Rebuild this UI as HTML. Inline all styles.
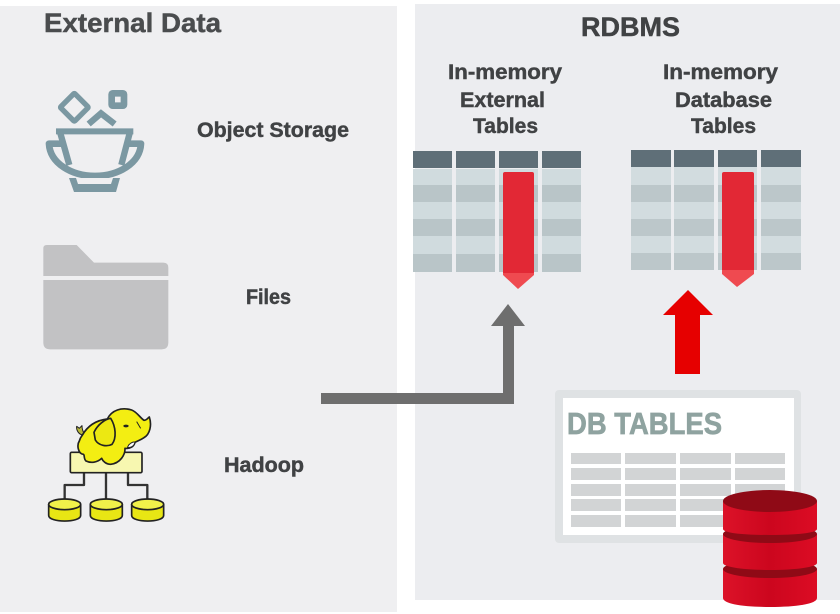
<!DOCTYPE html>
<html><head><meta charset="utf-8"><title>External Data and RDBMS</title>
<style>
html,body{margin:0;padding:0;background:#fff;width:840px;height:614px;overflow:hidden}
svg{display:block}
text{font-family:"Liberation Sans",sans-serif;font-weight:bold;fill:#404244;stroke:#404244;stroke-width:.45px}
</style></head><body>
<svg width="840" height="614" viewBox="0 0 840 614" xmlns="http://www.w3.org/2000/svg">
<defs>
<linearGradient id="cyl" x1="0" x2="1" y1="0" y2="0"><stop offset="0" stop-color="#dc1228"/><stop offset=".5" stop-color="#cc061e"/><stop offset="1" stop-color="#dc0c24"/></linearGradient>
</defs>
<rect x="0" y="6" width="397" height="606" fill="#efeff1"/>
<rect x="415" y="4" width="425" height="596" fill="#ecedf0"/>

<text x="44" y="32" font-size="27" textLength="177" lengthAdjust="spacingAndGlyphs" style="fill:#4a4c4e;stroke:#4a4c4e">External Data</text>
<text x="197" y="137" font-size="21" textLength="152" lengthAdjust="spacingAndGlyphs">Object Storage</text>
<text x="246" y="304" font-size="21" textLength="45" lengthAdjust="spacingAndGlyphs">Files</text>
<text x="224" y="472" font-size="21" textLength="80" lengthAdjust="spacingAndGlyphs">Hadoop</text>
<text x="581" y="36" font-size="27" textLength="99" lengthAdjust="spacingAndGlyphs">RDBMS</text>
<text x="448" y="79" font-size="21" textLength="114" lengthAdjust="spacingAndGlyphs">In-memory</text>
<text x="460" y="107" font-size="21" textLength="85" lengthAdjust="spacingAndGlyphs">External</text>
<text x="473" y="133" font-size="21" textLength="65" lengthAdjust="spacingAndGlyphs">Tables</text>
<text x="663" y="79" font-size="21" textLength="115" lengthAdjust="spacingAndGlyphs">In-memory</text>
<text x="675" y="107" font-size="21" textLength="97" lengthAdjust="spacingAndGlyphs">Database</text>
<text x="691" y="133" font-size="21" textLength="65" lengthAdjust="spacingAndGlyphs">Tables</text>

<!-- object storage icon -->
<g transform="scale(.3333)" fill="none" stroke="#7b98a2" stroke-width="16" stroke-linejoin="round">
<rect x="193" y="292" width="60" height="60" transform="rotate(45 223 322)" rx="3"/>
<rect x="335" y="280" width="37" height="37" rx="3" stroke-width="20"/>
<path d="M266 372L303 340L344 372" stroke-width="19" stroke-linejoin="miter"/>
<path d="M168 394H400" stroke-width="18"/>
<path d="M180 396L208 495M390 396L364 495" stroke-width="19"/>
<path d="M185 431H147C150 490 215 528 285 528C355 528 420 490 423 431H385" stroke-width="20"/>
</g>
<path d="M69 178H120L116 192H74Z" fill="#7b98a2"/>
<path d="M76 178H113L111 184H78Z" fill="#efeff1"/>

<!-- folder -->
<g transform="translate(20 230) scale(.3333)" fill="#c2c2c4">
<path d="M70 138V55Q70 45 80 45H170L222 98H430Q445 98 445 113V138Z"/>
<path d="M70 150H445V338Q445 358 425 358H90Q70 358 70 338Z"/>
</g>

<!-- hadoop -->
<g transform="translate(20 395) scale(.3333)" stroke="#222" stroke-width="5" stroke-linejoin="round">
<g fill="none" stroke="#333" stroke-width="7">
<path d="M192 232V270H134V315"/><path d="M258 232V315"/><path d="M324 232V270H382V315"/>
</g>
<rect x="151" y="172" width="215" height="61" rx="4" fill="#f7f7b0"/>
<path d="M188 120C176 118 168 105 170 94L178 100L186 92C186 102 190 112 194 118Z" fill="#b9b83a" stroke-width="3"/>
<path d="M186 122C205 88 235 75 262 72C275 45 305 36 335 45C350 50 362 70 372 76C380 76 384 68 388 66C396 90 390 118 372 128C360 136 352 138 345 142C342 155 330 162 315 160C316 180 300 205 272 208C258 208 248 198 245 190C232 203 212 205 198 198C190 190 195 180 190 178C174 176 170 150 178 138C180 130 183 126 186 122Z" fill="#f3ee12"/>
<path d="M222 112C232 90 255 72 272 70C288 95 290 130 276 148C260 156 236 152 226 135Z" fill="#ece812"/>
<path d="M326 150C335 140 345 140 345 142C342 155 332 158 322 158Z" fill="#fff" stroke-width="3"/>
<ellipse cx="318" cy="93" rx="8" ry="4" fill="#222" stroke="none"/>
<path d="M350 80L362 100" fill="none" stroke-width="3"/>
<g fill="#e8e614">
<path d="M86 328V361C86 384 182 384 182 361V328Z"/><ellipse cx="134" cy="328" rx="48" ry="16" fill="#f1f14a"/>
<path d="M211 328V361C211 384 307 384 307 361V328Z"/><ellipse cx="259" cy="328" rx="48" ry="16" fill="#f1f14a"/>
<path d="M335 328V361C335 384 431 384 431 361V328Z"/><ellipse cx="383" cy="328" rx="48" ry="16" fill="#f1f14a"/>
</g>
</g>

<!-- gray arrow -->
<path d="M321 393H503V326H491L508 304L525 326H514V404H321Z" fill="#6e6e6e"/>

<!-- table 1 -->
<g>
<g fill="#d0dbde"><rect x="413" y="169" width="39" height="103"/><rect x="456" y="169" width="39" height="103"/><rect x="499" y="169" width="39" height="103"/><rect x="542" y="169" width="39" height="103"/></g>
<g fill="#b9c5c8"><rect x="413" y="185" width="39" height="17"/><rect x="456" y="185" width="39" height="17"/><rect x="499" y="185" width="39" height="17"/><rect x="542" y="185" width="39" height="17"/>
<rect x="413" y="219" width="39" height="17"/><rect x="456" y="219" width="39" height="17"/><rect x="499" y="219" width="39" height="17"/><rect x="542" y="219" width="39" height="17"/>
<rect x="413" y="254" width="39" height="18"/><rect x="456" y="254" width="39" height="18"/><rect x="499" y="254" width="39" height="18"/><rect x="542" y="254" width="39" height="18"/></g>
<g fill="#5f6f78"><rect x="413" y="151" width="39" height="17"/><rect x="456" y="151" width="39" height="17"/><rect x="499" y="151" width="39" height="17"/><rect x="542" y="151" width="39" height="17"/></g>
<path d="M503 274V174Q503 172 505 172H532Q534 172 534 174V274Z" fill="#e22835"/>
<path d="M503 273H534V275L518 289L503 275Z" fill="#ef4a50"/>
</g>

<!-- table 2 -->
<g>
<g fill="#d2dcdf"><rect x="631" y="167" width="40" height="103"/><rect x="674" y="167" width="40" height="103"/><rect x="718" y="167" width="39" height="103"/><rect x="761" y="167" width="40" height="103"/></g>
<g fill="#bcc7ca"><rect x="631" y="185" width="40" height="17"/><rect x="674" y="185" width="40" height="17"/><rect x="718" y="185" width="39" height="17"/><rect x="761" y="185" width="40" height="17"/>
<rect x="631" y="219" width="40" height="17"/><rect x="674" y="219" width="40" height="17"/><rect x="718" y="219" width="39" height="17"/><rect x="761" y="219" width="40" height="17"/>
<rect x="631" y="253" width="40" height="17"/><rect x="674" y="253" width="40" height="17"/><rect x="718" y="253" width="39" height="17"/><rect x="761" y="253" width="40" height="17"/></g>
<g fill="#5f6f78"><rect x="631" y="150" width="40" height="17"/><rect x="674" y="150" width="40" height="17"/><rect x="718" y="150" width="39" height="17"/><rect x="761" y="150" width="40" height="17"/></g>
<path d="M722 271V174Q722 172 724 172H752Q754 172 754 174V271Z" fill="#e22835"/>
<path d="M722 270H754V274L737 287L722 274Z" fill="#ef4a50"/>
</g>

<!-- red arrow -->
<path d="M688 290L713 315H700V374H675V315H663Z" fill="#e60000"/>

<!-- db tables card -->
<rect x="555" y="390" width="246" height="153" rx="4" fill="#dfe2e4"/>
<rect x="563" y="398" width="231" height="137" fill="#fff"/>
<text x="567" y="434" font-size="31" textLength="155" lengthAdjust="spacingAndGlyphs" style="fill:#8fa3a0;stroke:#8fa3a0;stroke-width:.7px">DB TABLES</text>
<g fill="#d2d4d5">
<rect x="571" y="453" width="50" height="11"/><rect x="625" y="453" width="51" height="11"/><rect x="680" y="453" width="51" height="11"/><rect x="735" y="453" width="50" height="11"/>
<rect x="571" y="468" width="50" height="12"/><rect x="625" y="468" width="51" height="12"/><rect x="680" y="468" width="51" height="12"/><rect x="735" y="468" width="50" height="12"/>
<rect x="571" y="484" width="50" height="12"/><rect x="625" y="484" width="51" height="12"/><rect x="680" y="484" width="51" height="12"/><rect x="735" y="484" width="50" height="12"/>
<rect x="571" y="499" width="50" height="12"/><rect x="625" y="499" width="51" height="12"/><rect x="680" y="499" width="51" height="12"/><rect x="735" y="499" width="50" height="12"/>
<rect x="571" y="515" width="50" height="12"/><rect x="625" y="515" width="51" height="12"/><rect x="680" y="515" width="51" height="12"/>
</g>

<!-- red cylinders -->
<path d="M723 569V598C723 604 744 607 770 607C796 607 817 604 817 598V569Z" fill="url(#cyl)"/>
<ellipse cx="770" cy="569" rx="47" ry="9" fill="#8f0a16"/>
<path d="M723 534V563C723 567 744 570 770 570C796 570 817 567 817 563V534Z" fill="url(#cyl)"/>
<ellipse cx="770" cy="534" rx="47" ry="9" fill="#8f0a16"/>
<path d="M723 501V529C723 533 744 535 770 535C796 535 817 533 817 529V501Z" fill="url(#cyl)"/>
<ellipse cx="770" cy="501" rx="47" ry="11" fill="#8f0a16"/>
</svg>
</body></html>
